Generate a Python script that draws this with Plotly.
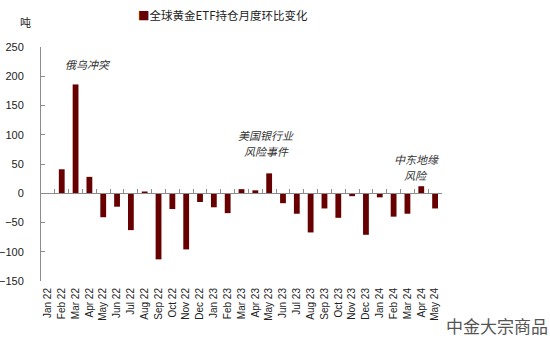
import plotly.graph_objects as go

# Monthly change in global gold ETF holdings (tonnes)
months = ["Jan 22", "Feb 22", "Mar 22", "Apr 22", "May 22", "Jun 22", "Jul 22", "Aug 22",
          "Sep 22", "Oct 22", "Nov 22", "Dec 22", "Jan 23", "Feb 23", "Mar 23", "Apr 23",
          "May 23", "Jun 23", "Jul 23", "Aug 23", "Sep 23", "Oct 23", "Nov 23", "Dec 23",
          "Jan 24", "Feb 24", "Mar 24", "Apr 24", "May 24"]
changes = [0, 41, 186, 28, -41, -23, -63, 3,
           -113, -27, -96, -15, -24, -34, 7, 5,
           34, -17, -35, -67, -26, -42, -5, -71,
           -7, -40, -35, 12, -26]
series_name = "全球黄金ETF持仓月度环比变化"
unit_label = "吨"
source_label = "中金大宗商品"
# event notes: (x position in months, y value of each text line, text lines)
events = [
    (2.9, [221], ["俄乌冲突"]),
    (15.8, [100, 73], ["美国银行业", "风险事件"]),
    (26.65, [59, 32], ["中东地缘", "风险"]),
]
y_ticks = [-150, -100, -50, 0, 50, 100, 150, 200, 250]

bar_color = "#670000"
axis_color = "#8c8c8c"
latin = "Liberation Sans, Arial, sans-serif"
cjk = "Noto Sans CJK SC, sans-serif"

fig = go.Figure()
fig.add_trace(go.Bar(
    x=list(range(len(months))), y=changes, name=series_name,
    marker=dict(color=bar_color, line=dict(width=0)),
    width=0.42, showlegend=False,
))

# invisible trace on the secondary x axis so the zero line axis is drawn
fig.add_trace(go.Scatter(x=[-0.5, len(months) - 0.5], y=[0, 0], xaxis="x2",
                         mode="lines", line=dict(width=0), hoverinfo="skip",
                         showlegend=False))

n = len(months)
y_min, y_max = -150, 250
zero_pos = (0 - y_min) / (y_max - y_min)

fig.update_layout(
    width=550, height=345,
    margin=dict(l=41, r=108, t=47, b=64),
    plot_bgcolor="white", paper_bgcolor="white",
    xaxis=dict(
        range=[-0.5, n - 0.5], automargin=False,
        tickmode="array", tickvals=list(range(n)), ticktext=months,
        tickangle=-90, showline=False, ticks="", showgrid=False, zeroline=False,
        tickfont=dict(family=latin, size=10, color="#222"),
        ticklabelstandoff=4,
    ),
    xaxis2=dict(
        range=[-0.5, n - 0.5], overlaying="x", anchor="free", position=zero_pos,
        side="bottom", showticklabels=False, showgrid=False, zeroline=False,
        showline=True, linecolor=axis_color, linewidth=1,
        tickmode="array", tickvals=[i - 0.5 for i in range(n + 1)],
        ticks="inside", ticklen=4, tickcolor=axis_color, tickwidth=1,
    ),
    yaxis=dict(
        range=[y_min, y_max], tickvals=y_ticks, automargin=False,
        showline=True, linecolor=axis_color, linewidth=1,
        ticks="inside", ticklen=4, tickcolor=axis_color,
        showgrid=False, zeroline=False,
        tickfont=dict(family=latin, size=11, color="#222"),
        ticklabelstandoff=14,
    ),
)

annotations = [
    dict(xref="paper", yref="paper", x=-0.038, y=1.107, xanchor="center", yanchor="middle",
         text=unit_label, showarrow=False, font=dict(family=cjk, size=11, color="#222")),
    dict(xref="paper", yref="paper", x=0.238, y=1.137, xanchor="left", yanchor="middle",
         text=f"<span style='color:{bar_color}'>■</span>{series_name}", showarrow=False,
         font=dict(family=cjk, size=11.5, color="#222")),
    dict(xref="paper", yref="paper", x=1.27, y=-0.19, xanchor="right", yanchor="middle",
         text=source_label, showarrow=False, font=dict(family=cjk, size=17, color="#555")),
]
for ex, ey_list, lines in events:
    for ey, line in zip(ey_list, lines):
        annotations.append(dict(x=ex, y=ey, xref="x", yref="y", text=f"<i>{line}</i>",
                                showarrow=False, xanchor="center", yanchor="middle",
                                font=dict(family=cjk, size=11, color="#333")))
fig.update_layout(annotations=annotations)

fig.write_html("out.html")
